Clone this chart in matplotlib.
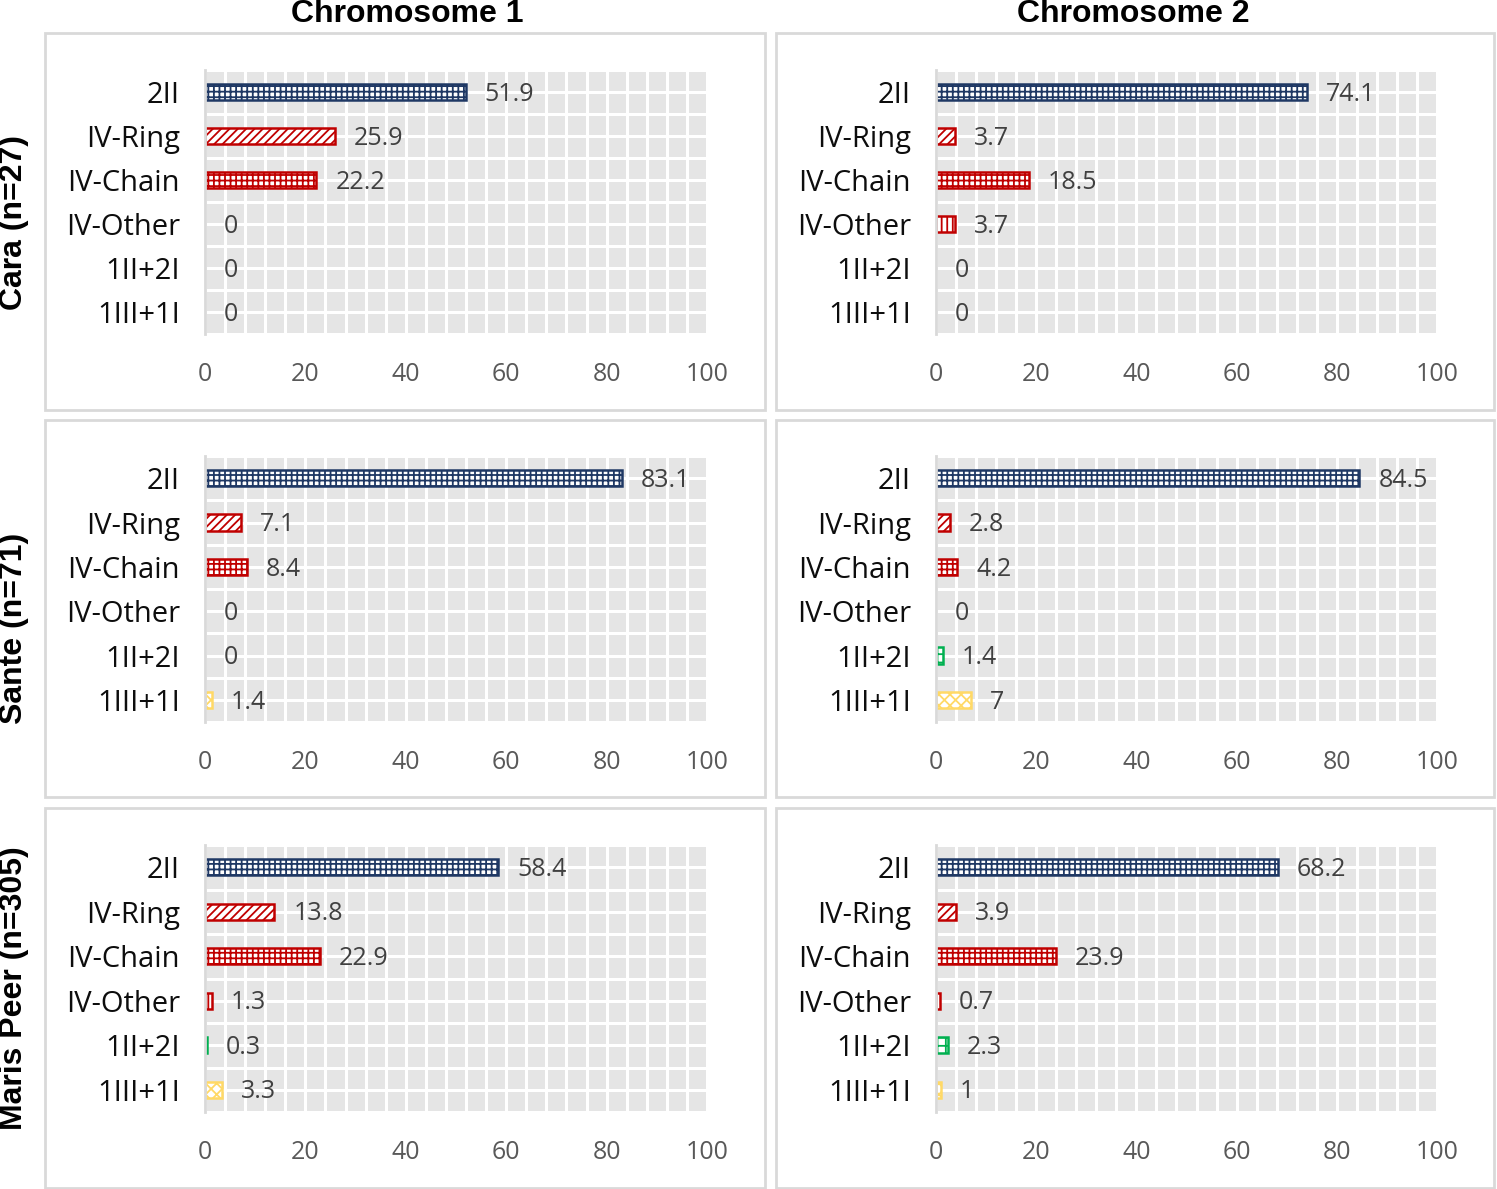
import matplotlib
matplotlib.use("Agg")
import matplotlib.pyplot as plt
from matplotlib.patches import Rectangle
import numpy as np

categories = ["2II", "IV-Ring", "IV-Chain", "IV-Other", "1II+2I", "1III+1I"]
col_titles = ["Chromosome 1", "Chromosome 2"]
row_titles = ["Cara (n=27)", "Sante (n=71)", "Maris Peer (n=305)"]

cara_chr1 = [51.9, 25.9, 22.2, 0, 0, 0]
cara_chr2 = [74.1, 3.7, 18.5, 3.7, 0, 0]
sante_chr1 = [83.1, 7.1, 8.4, 0, 0, 1.4]
sante_chr2 = [84.5, 2.8, 4.2, 0, 1.4, 7]
mp_chr1 = [58.4, 13.8, 22.9, 1.3, 0.3, 3.3]
mp_chr2 = [68.2, 3.9, 23.9, 0.7, 2.3, 1]

xticks = [0, 20, 40, 60, 80, 100]

data = [[cara_chr1, cara_chr2], [sante_chr1, sante_chr2], [mp_chr1, mp_chr2]]

colors = ["#1F3864", "#C00000", "#C00000", "#C00000", "#00B050", "#FFD966"]
hatches = ["+++", "////", "+++", "|||", "++", "xxx"]

W, H = 1497, 1189
fig = plt.figure(figsize=(W / 100, H / 100), dpi=100)
plt.rcParams["hatch.linewidth"] = 1.3

font = "Open Sans"
bold_font = "Liberation Sans"

row_axes_y = [(70, 334), (456, 722), (845, 1112)]
col_axes_x = [(205, 707), (936, 1437)]
box_x = [(45, 765), (776, 1494)]
box_y = [(33, 410), (420, 797), (808, 1188)]

def fx(px):
    return px / W

def fy(py):
    return 1 - py / H

for r in range(3):
    for c in range(2):
        bx0, bx1 = box_x[c]
        by0, by1 = box_y[r]
        fig.patches.append(Rectangle((fx(bx0), fy(by1)), fx(bx1 - bx0), (by1 - by0) / H,
                                     transform=fig.transFigure, fill=False,
                                     edgecolor="#D9D9D9", linewidth=2, zorder=0))
        x0, x1 = col_axes_x[c]
        y0, y1 = row_axes_y[r]
        ax = fig.add_axes([fx(x0), fy(y1), fx(x1 - x0), (y1 - y0) / H])
        ax.set_facecolor("#E5E5E5")
        vals = data[r][c]
        ypos = np.arange(len(categories))
        for i, v in enumerate(vals):
            if v > 0:
                ax.barh(ypos[i], v, height=0.37, color="white", edgecolor=colors[i],
                        hatch=hatches[i], linewidth=1.8, zorder=3)
            ax.text(v + 3.8, ypos[i] + 0.05, f"{v:g}", va="center", ha="left",
                    fontsize=18, color="#404040", family=font, zorder=4)
        ax.set_xlim(0, 100)
        ax.set_ylim(5.5, -0.5)
        ax.set_xticks(xticks)
        ax.set_xticks(np.arange(0, 101, 4), minor=True)
        ax.set_yticks(ypos)
        ax.set_yticks(np.arange(-0.5, 6, 0.5), minor=True)
        ax.set_yticklabels(categories, fontsize=21, family=font, color="#0D0D0D")
        ax.set_xticklabels([str(t) for t in xticks], fontsize=18, family=font, color="#595959")
        ax.tick_params(axis="both", which="both", length=0)
        ax.tick_params(axis="y", pad=18)
        ax.tick_params(axis="x", pad=20)
        ax.grid(True, which="both", color="white", linewidth=2.2)
        ax.set_axisbelow(True)
        for s in ["top", "right", "bottom"]:
            ax.spines[s].set_visible(False)
        ax.spines["left"].set_color("#D9D9D9")
        ax.spines["left"].set_linewidth(2)
        ax.spines["left"].set_zorder(5)

for c, t in enumerate(col_titles):
    fig.text(fx([407, 1133][c]), fy(14), t, ha="center", va="center", fontsize=23,
             fontweight="bold", family=bold_font)

for r, t in enumerate(row_titles):
    fig.text(fx(14), fy([222, 628, 988][r]), t, ha="center", va="center", rotation=90,
             fontsize=23, fontweight="bold", family=bold_font)

fig.savefig("out.png", dpi=100)
